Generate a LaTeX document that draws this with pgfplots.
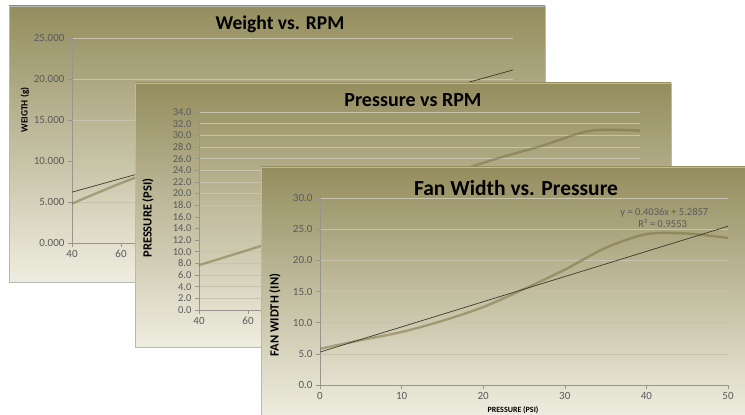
\documentclass[border=0pt]{standalone}
\usepackage{fontspec}
\setmainfont{Carlito}
\usepackage{pgfplots}
\pgfplotsset{compat=1.18}

\definecolor{bgtop}{RGB}{148,141,94}
\definecolor{bgmid}{RGB}{204,200,166}
\definecolor{bgbot}{RGB}{239,237,224}
\definecolor{dataline}{RGB}{118,110,60}
\definecolor{trendline}{RGB}{60,58,40}
\definecolor{gridc}{RGB}{200,196,172}
\definecolor{axisc}{RGB}{150,150,140}
\definecolor{tickc}{RGB}{90,90,90}
\definecolor{edgec}{RGB}{185,185,175}

\pgfplotsset{
  panel/.style={
    scale only axis,
    anchor=south west,
    axis lines*=left,
    axis line style={axisc, line width=0.6pt},
    ymajorgrids,
    grid style={gridc, line width=0.6pt},
    tick style={axisc, line width=0.6pt},
    major tick length=4pt,
    tick align=outside,
    ticklabel style={tickc, font=\fontsize{11}{11}\selectfont},
    /pgf/number format/assume math mode=true,
    scaled y ticks=false,
    clip=false,
  },
  data/.style={dataline, draw opacity=0.5, line width=2.4pt, smooth},
  trend/.style={trendline, line width=0.7pt},
}

\begin{document}
\begin{tikzpicture}
\path[use as bounding box, fill=white] (0pt,0pt) rectangle (745pt,415pt);

% ---------------- Weight vs. RPM ----------------
\shade[top color=bgtop, middle color=bgmid, bottom color=bgbot, draw=edgec]
  (9pt,133pt) rectangle (545pt,409pt);
\begin{axis}[panel, at={(72pt,172pt)}, width=441pt, height=205pt,
  xmin=40, xmax=220, ymin=0, ymax=25,
  xtick={40,60}, ytick={0,5,...,25},
  yticklabel style={/pgf/number format/.cd, fixed, fixed zerofill, precision=3}]
\addplot[data] coordinates {
  (40,4.8) (60,7.3) (80,9.5) (100,11.0) (120,12.5) (140,14.0)
  (160,15.5) (180,17.0) (200,18.5) (220,19.0)};
\addplot[trend] coordinates {(40,6.2) (220,21.1)};
\end{axis}
\node[font=\bfseries\fontsize{19.5}{19.5}\selectfont] at (280pt,391pt) {Weight vs. RPM};
\node[font=\bfseries\fontsize{9.5}{9.5}\selectfont, rotate=90] at (25pt,305pt) {WEIGTH (g)};

% ---------------- Pressure vs RPM ----------------
\shade[top color=bgtop, middle color=bgmid, bottom color=bgbot, draw=edgec]
  (135pt,68pt) rectangle (671pt,332pt);
\begin{axis}[panel, at={(199pt,105pt)}, width=441pt, height=198pt,
  xmin=40, xmax=220, ymin=0, ymax=34,
  xtick={40,60}, ytick={0,2,...,34},
  yticklabel style={font=\fontsize{10.5}{10.5}\selectfont,
    /pgf/number format/.cd, fixed, fixed zerofill, precision=1}]
\addplot[data] coordinates {
  (40,7.7) (60,10.3) (80,13.0) (100,16.0) (120,19.5) (140,23.0)
  (160,25.8) (180,28.2) (200,30.8) (220,30.8)};
\end{axis}
\node[font=\bfseries\fontsize{20}{20}\selectfont] at (413pt,315pt) {Pressure vs RPM};
\node[font=\bfseries\fontsize{12.5}{12.5}\selectfont, rotate=90] at (148pt,197pt) {PRESSURE (PSI)};

% ---------------- Fan Width vs. Pressure ----------------
\shade[top color=bgtop, middle color=bgmid, bottom color=bgbot, draw=edgec]
  (261pt,-2pt) rectangle (747pt,248pt);
\begin{axis}[panel, at={(320pt,30pt)}, width=408pt, height=187pt,
  xmin=0, xmax=50, ymin=0, ymax=30,
  xtick={0,10,...,50}, ytick={0,5,...,30},
  yticklabel style={/pgf/number format/.cd, fixed, fixed zerofill, precision=1}]
\addplot[data] coordinates {
  (0,5.8) (5,7.2) (10,8.5) (15,10.3) (20,12.5) (25,15.4) (30,18.5)
  (35,22.0) (40,24.2) (45,24.3) (50,23.6)};
\addplot[trend] coordinates {(0,5.2857) (50,25.4657)};
\node[tickc, font=\fontsize{10.5}{10.5}\selectfont] at (axis cs:42.2,27.7) {y = 0.4036x + 5.2857};
\node[tickc, font=\fontsize{10.5}{10.5}\selectfont] at (axis cs:42.0,25.9) {R² = 0.9553};
\end{axis}
\node[font=\bfseries\fontsize{21.5}{21.5}\selectfont] at (516pt,227pt) {Fan Width vs. Pressure};
\node[font=\bfseries\fontsize{12.5}{12.5}\selectfont, rotate=90] at (275pt,100pt) {FAN WIDTH (IN)};
\node[font=\bfseries\fontsize{8}{8}\selectfont] at (513pt,5pt) {PRESSURE (PSI)};
\end{tikzpicture}
\end{document}
